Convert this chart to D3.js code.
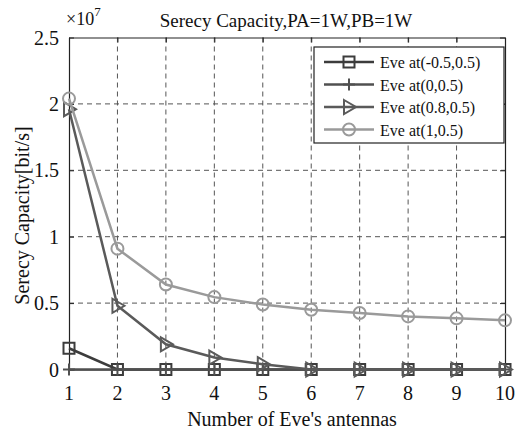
<!DOCTYPE html>
<html>
<head>
<meta charset="utf-8">
<script src="https://cdn.jsdelivr.net/npm/d3@7"></script>
<style>
  html, body { margin: 0; padding: 0; background: #fff; overflow: hidden; }
  svg { display: block; }
  svg text { font-family: "Liberation Serif", "Times New Roman", serif; fill: #111; }
</style>
</head>
<body>
<div id="chart"></div>
<script>
// antenna counts
const antennas = [1, 2, 3, 4, 5, 6, 7, 8, 9, 10];
// values in units of 1e7 bit/s
const eveM05 = [0.16, 0, 0, 0, 0, 0, 0, 0, 0, 0];
const eve0 = [0, 0, 0, 0, 0, 0, 0, 0, 0, 0];
const eve08 = [1.96, 0.48, 0.19, 0.09, 0.04, 0, 0, 0, 0, 0];
const eve1 = [2.04, 0.91, 0.64, 0.545, 0.49, 0.45, 0.425, 0.40, 0.385, 0.37];
const yTicks = [0, 0.5, 1, 1.5, 2, 2.5];
const yTickLabels = ['0', '0.5', '1', '1.5', '2', '2.5'];
const seriesNames = ['Eve at(-0.5,0.5)', 'Eve at(0,0.5)', 'Eve at(0.8,0.5)', 'Eve at(1,0.5)'];

const series = [
  { name: seriesNames[0], values: eveM05, color: '#3c3c3c', marker: 'square' },
  { name: seriesNames[1], values: eve0, color: '#505050', marker: 'plus' },
  { name: seriesNames[2], values: eve08, color: '#5a5a5a', marker: 'triangle' },
  { name: seriesNames[3], values: eve1, color: '#9a9a9a', marker: 'circle' }
];

const width = 517, height = 433;
const margin = { top: 37.5, right: 12, bottom: 63.5, left: 69 };
const innerWidth = width - margin.left - margin.right;
const innerHeight = height - margin.top - margin.bottom;

const svg = d3.select('#chart').append('svg')
  .attr('width', width)
  .attr('height', height);

const g = svg.append('g')
  .attr('transform', `translate(${margin.left},${margin.top})`);

const x = d3.scaleLinear().domain([1, 10]).range([0, innerWidth]);
const y = d3.scaleLinear().domain([0, 2.5]).range([innerHeight, 0]);

// 网格
g.selectAll('.gx').data(antennas.slice(1, -1)).enter().append('line')
  .attr('x1', d => x(d)).attr('x2', d => x(d))
  .attr('y1', 0).attr('y2', innerHeight)
  .attr('stroke', '#555').attr('stroke-width', 1).attr('stroke-dasharray', '5,4');
g.selectAll('.gy').data(yTicks.slice(1, -1)).enter().append('line')
  .attr('x1', 0).attr('x2', innerWidth)
  .attr('y1', d => y(d)).attr('y2', d => y(d))
  .attr('stroke', '#555').attr('stroke-width', 1).attr('stroke-dasharray', '5,4');

// 坐标轴（刻度朝内，标签另外画）
g.append('g')
  .attr('transform', `translate(0,${innerHeight})`)
  .call(d3.axisBottom(x).tickValues(antennas).tickSizeInner(-5).tickSizeOuter(0));
g.append('g')
  .call(d3.axisLeft(y).tickValues(yTicks).tickSizeInner(-5).tickSizeOuter(0));
g.append('g')
  .call(d3.axisTop(x).tickValues(antennas).tickSizeInner(-5).tickSizeOuter(0));
g.append('g')
  .attr('transform', `translate(${innerWidth},0)`)
  .call(d3.axisRight(y).tickValues(yTicks).tickSizeInner(-5).tickSizeOuter(0));

// 去掉坐标轴自带的文字
g.selectAll('.tick text').remove();
svg.selectAll('.domain').attr('stroke', '#222').attr('stroke-width', 1.2);
svg.selectAll('.tick line').attr('stroke', '#222');

// 刻度标签
svg.selectAll('.xlab').data(antennas).enter().append('text')
  .attr('class', 'xlab')
  .attr('x', d => margin.left + x(d))
  .attr('y', margin.top + innerHeight + 30)
  .attr('text-anchor', 'middle')
  .style('font-size', '20px')
  .text(d => d);
svg.selectAll('.ylab').data(yTicks).enter().append('text')
  .attr('class', 'ylab')
  .attr('x', margin.left - 10)
  .attr('y', d => margin.top + y(d) + 7)
  .attr('text-anchor', 'end')
  .style('font-size', '20px')
  .text((d, i) => yTickLabels[i]);

// 标记
function drawMarker(sel, type, color) {
  if (type === 'square') {
    sel.append('rect').attr('x', -5.5).attr('y', -5.5).attr('width', 11).attr('height', 11)
      .attr('fill', 'none').attr('stroke', color).attr('stroke-width', 2);
  } else if (type === 'plus') {
    sel.append('path').attr('d', 'M-6,0H6M0,-6V6')
      .attr('stroke', color).attr('stroke-width', 2).attr('fill', 'none');
  } else if (type === 'triangle') {
    sel.append('path').attr('d', 'M-5,-7L7,0L-5,7Z')
      .attr('fill', 'none').attr('stroke', color).attr('stroke-width', 2);
  } else {
    sel.append('circle').attr('r', 6)
      .attr('fill', 'none').attr('stroke', color).attr('stroke-width', 2);
  }
}

const line = d3.line().x((d, i) => x(antennas[i])).y(d => y(d));

series.forEach(s => {
  g.append('path').datum(s.values)
    .attr('d', line)
    .attr('fill', 'none')
    .attr('stroke', s.color)
    .attr('stroke-width', 2.5);
  s.values.forEach((v, i) => {
    const m = g.append('g').attr('transform', `translate(${x(antennas[i])},${y(v)})`);
    drawMarker(m, s.marker, s.color);
  });
});

// 标题和轴标签
svg.append('text')
  .attr('x', 286)
  .attr('y', 27)
  .attr('text-anchor', 'middle')
  .style('font-size', '19px')
  .text('Serecy Capacity,PA=1W,PB=1W');

const exp = svg.append('text').attr('x', 66).attr('y', 25).style('font-size', '18px');
exp.append('tspan').text('\u00d710');
exp.append('tspan').attr('dy', -9).style('font-size', '13px').text('7');

svg.append('text')
  .attr('x', 292)
  .attr('y', 426)
  .attr('text-anchor', 'middle')
  .style('font-size', '20px')
  .text("Number of Eve's antennas");

svg.append('text')
  .attr('transform', `translate(29,${margin.top + innerHeight / 2 + 12}) rotate(-90)`)
  .attr('text-anchor', 'middle')
  .style('font-size', '20px')
  .text('Serecy Capacity[bit/s]');

// 图例
const legend = svg.append('g').attr('transform', 'translate(314,47)');
legend.append('rect')
  .attr('width', 190).attr('height', 96)
  .attr('fill', '#fff').attr('stroke', '#222').attr('stroke-width', 1.2);
series.forEach((s, i) => {
  const row = legend.append('g').attr('transform', `translate(0,${15 + i * 22.5})`);
  row.append('line').attr('x1', 10).attr('x2', 60)
    .attr('stroke', s.color).attr('stroke-width', 2.5);
  drawMarker(row.append('g').attr('transform', 'translate(35,0)'), s.marker, s.color);
  row.append('text').attr('x', 66).attr('y', 6).style('font-size', '16px').text(s.name);
});
</script>
</body>
</html>
